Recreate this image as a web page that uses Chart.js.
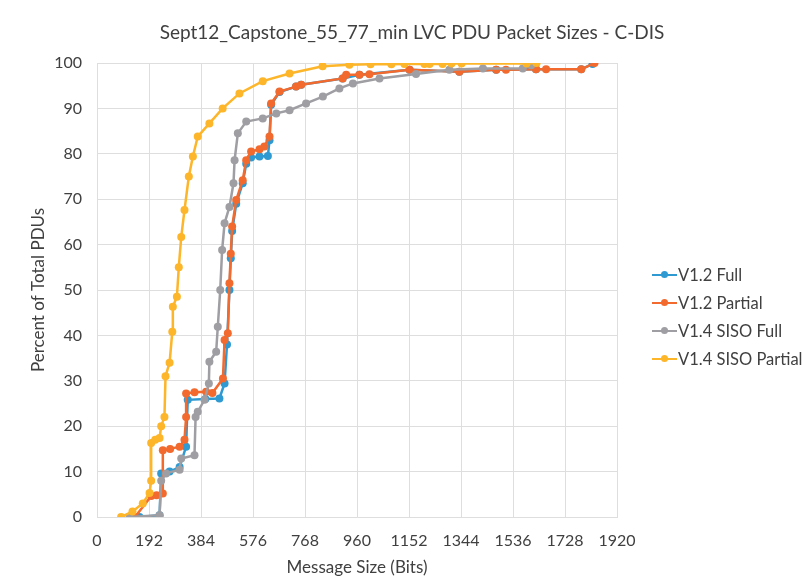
<!DOCTYPE html>
<html>
<head>
<meta charset="utf-8">
<script src="https://cdn.jsdelivr.net/npm/chart.js@4"></script>
<style>
  body { margin: 0; background: #fff; }
  #wrap { position: relative; width: 804px; height: 584px; }
  #legend { position: absolute; left: 652px; top: 261px; font-family: Lato, "Open Sans", sans-serif; font-size: 16.5px; color: #404040; }
  .item { height: 28px; display: flex; align-items: center; white-space: nowrap; }
  .key { position: relative; width: 25px; height: 10px; margin-right: 1px; }
  .key .ln { position: absolute; left: 0; right: 0; top: 4px; height: 2px; }
  .key .dot { position: absolute; left: 9px; top: 1px; width: 7px; height: 7px; border-radius: 50%; }
</style>
</head>
<body>
<div id="wrap">
  <canvas id="cdfChart" width="804" height="584"></canvas>
  <div id="legend"></div>
</div>
<script>
// series names and colours
const seriesNames = ["V1.2 Full", "V1.2 Partial", "V1.4 SISO Full", "V1.4 SISO Partial"];
const seriesColors = ["#2f9ad2", "#f26a2e", "#9e9ea3", "#fdb52a"];
const chartTitle = "Sept12_Capstone_55_77_min LVC PDU Packet Sizes - C-DIS";

// x ticks (bits)
const xTicks = [0, 192, 384, 576, 768, 960, 1152, 1344, 1536, 1728, 1920];

// V1.2 Full
const fullX12 = [157, 231, 237, 268, 305, 329, 335, 400, 452, 471, 480, 489, 494, 499, 514, 538, 551, 569, 600, 631, 637, 643, 674, 735, 754, 907, 969, 1154, 1338, 1474, 1621, 1788, 1830];
const fullY12 = [0, 0.4, 9.6, 10, 11, 15.5, 25.8, 26, 26.1, 29.4, 38, 50, 57, 63, 69, 73.5, 77.8, 79.2, 79.4, 79.5, 83, 90.8, 93.6, 94.8, 95.2, 96.6, 97.4, 98.5, 98.1, 98.5, 98.6, 98.6, 99.8];

// V1.2 Partial
const partX12 = [140, 200, 220, 243, 243, 270, 305, 323, 329, 329, 360, 403, 426, 465, 471, 483, 489, 494, 499, 514, 538, 551, 569, 600, 618, 637, 643, 674, 735, 754, 907, 920, 969, 1006, 1154, 1338, 1474, 1510, 1621, 1658, 1788, 1837];
const partY12 = [0, 4.6, 4.8, 5.2, 14.7, 15, 15.5, 17, 22, 27.2, 27.5, 27.6, 27.3, 30.5, 39, 40.5, 51.5, 58, 64, 69.8, 74.2, 78.6, 80.5, 81, 81.6, 83.8, 91.1, 93.7, 94.8, 95.2, 96.6, 97.4, 97.4, 97.5, 98.5, 98.1, 98.5, 98.5, 98.6, 98.6, 98.6, 100];

// V1.4 SISO Full
const fullX14 = [120, 231, 237, 255, 305, 311, 360, 364, 372, 397, 413, 415, 440, 446, 455, 462, 471, 489, 504, 508, 520, 551, 612, 662, 711, 772, 834, 895, 945, 1043, 1178, 1301, 1425, 1572, 1603];
const fullY14 = [0, 0.4, 8, 9.6, 10.4, 12.9, 13.6, 22, 23.2, 25.8, 29.4, 34.2, 36.4, 41.9, 50, 58.8, 64.7, 68.3, 73.5, 78.6, 84.5, 87.1, 87.8, 88.9, 89.6, 91.1, 92.6, 94.4, 95.5, 96.6, 97.6, 98.5, 98.8, 98.8, 99.5];

// V1.4 SISO Partial
const partX14 = [89, 131, 169, 194, 200, 200, 215, 231, 237, 249, 253, 268, 278, 280, 295, 302, 311, 323, 339, 354, 372, 415, 464, 526, 612, 711, 833, 932, 1010, 1087, 1135, 1209, 1228, 1276, 1309, 1346, 1586, 1623];
const partY14 = [0, 1.2, 3, 5.3, 8, 16.3, 17, 17.4, 20, 22, 31, 34, 40.8, 46.3, 48.5, 55, 61.7, 67.6, 75, 79.4, 83.8, 86.7, 90, 93.3, 96, 97.7, 99.3, 99.6, 99.7, 99.7, 99.8, 99.8, 99.8, 99.8, 99.9, 99.9, 99.9, 100];

const seriesX = [fullX12, partX12, fullX14, partX14];
const seriesY = [fullY12, partY12, fullY14, partY14];

const font = "Lato, 'Open Sans', sans-serif";
const grid = "#dedede";
const textColor = "#404040";

const datasets = seriesNames.map((name, i) => ({
  label: name,
  data: seriesX[i].map((x, j) => ({ x: x, y: seriesY[i][j] })),
  showLine: true,
  borderColor: seriesColors[i],
  backgroundColor: seriesColors[i],
  borderWidth: 2.5,
  pointRadius: 4,
  pointBorderWidth: 0,
  tension: 0,
  order: 4 - i,
}));

// title drawn over the whole canvas, not just the plot
const titlePlugin = {
  id: "canvasTitle",
  afterDraw(chart) {
    const ctx = chart.ctx;
    ctx.save();
    ctx.font = "19px " + font;
    ctx.fillStyle = textColor;
    ctx.textAlign = "center";
    ctx.textBaseline = "middle";
    ctx.fillText(chartTitle, 412, 33);
    ctx.restore();
  },
};

new Chart(document.getElementById("cdfChart").getContext("2d"), {
  type: "scatter",
  data: { datasets: datasets },
  plugins: [titlePlugin],
  options: {
    responsive: false,
    animation: false,
    layout: { padding: { left: 0, right: 187, top: 63, bottom: 0 } },
    plugins: {
      legend: { display: false },
      tooltip: { enabled: false },
    },
    scales: {
      x: {
        type: "linear",
        min: 0,
        max: 1920,
        afterBuildTicks: (scale) => {
          scale.ticks = xTicks.map((v) => ({ value: v }));
        },
        afterFit: (scale) => {
          scale.height = 67;
        },
        ticks: {
          color: textColor,
          font: { family: font, size: 16 },
          padding: 14,
          maxRotation: 0,
          callback: (v) => String(v),
        },
        grid: { color: grid, drawTicks: false },
        border: { color: grid },
        title: {
          display: true,
          text: "Message Size (Bits)",
          color: textColor,
          font: { family: font, size: 17 },
          padding: { top: 0, bottom: 6 },
        },
      },
      y: {
        min: 0,
        max: 100,
        afterFit: (scale) => {
          scale.width = 97;
        },
        ticks: { stepSize: 10, color: textColor, font: { family: font, size: 16 }, padding: 15 },
        grid: { color: grid, drawTicks: false },
        border: { color: grid },
        title: {
          display: true,
          text: "Percent of Total PDUs",
          color: textColor,
          font: { family: font, size: 17 },
          padding: { top: 28, bottom: 0 },
        },
      },
    },
  },
});

// legend with line + marker keys
const legend = document.getElementById("legend");
seriesNames.forEach((name, i) => {
  const item = document.createElement("div");
  item.className = "item";
  item.innerHTML = `<span class="key"><span class="ln" style="background:${seriesColors[i]}"></span><span class="dot" style="background:${seriesColors[i]}"></span></span>${name}`;
  legend.appendChild(item);
});
</script>
</body>
</html>
